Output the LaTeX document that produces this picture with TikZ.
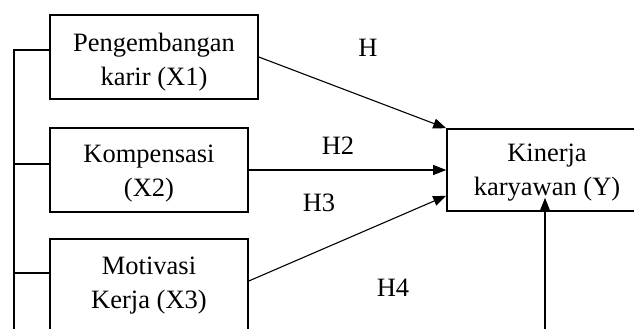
\documentclass[tikz,border=0pt]{standalone}
\usepackage{fontspec}
\setmainfont{Liberation Serif}
\usetikzlibrary{arrows.meta}
\begin{document}
\begin{tikzpicture}[x=1pt,y=-1pt,
  varbox/.style={draw, line width=1.6pt, inner sep=0pt},
  varname/.style={align=center, inner sep=0pt,
    font=\fontsize{26.5}{34}\selectfont},
  hyp/.style={font=\fontsize{26.5}{29}\selectfont, inner sep=0pt},
  link/.style={line width=1.1pt},
  arr/.style={link, -{Triangle[length=13pt,width=10pt]}}]
\useasboundingbox (0,0) rectangle (634,329);
\clip (0,0) rectangle (634,329);
% independent variables
\node[varbox, minimum width=208pt, minimum height=84pt] (X1) at (154,57) {};
\node[varname] (X1t) at ([yshift=-5pt]X1.center) {Pengembangan\\karir (X1)};
\node[varbox, minimum width=198pt, minimum height=84pt] (X2) at (149,170) {};
\node[varname] (X2t) at ([yshift=-4pt]X2.center) {Kompensasi\\(X2)};
\node[varbox, minimum width=198pt, minimum height=104pt] (X3) at (149,291) {};
\node[varname] (X3t) at ([yshift=5pt]X3.center) {Motivasi\\Kerja (X3)};
% dependent variable
\node[varbox, minimum width=200pt, minimum height=82pt] (Y) at (547,170) {};
\node[varname] (Yt) at ([yshift=-3pt]Y.center) {Kinerja\\karyawan (Y)};
% simultaneous bracket on the left
\coordinate (bus) at (14,345);
\draw[link] (bus) |- ([yshift=7pt]X1.west);
\draw[link] ([yshift=6pt]X2.west) -- ++(-36,0);
\draw[link] ([yshift=18pt]X3.west) -- ++(-36,0);
% partial effects
\draw[arr] (X1.east) -- (Y.north west);
\draw[arr] (X2.east) -- (Y.west);
\draw[arr] ([yshift=10pt]X3.east) -- ([yshift=16pt]Y.south west);
\coordinate (simul) at (545,345);
\draw[arr] (simul) -- ([yshift=14pt]Y.south -| simul);
% hypothesis labels
\node[hyp] (H1) at (368,48) {H};
\node[hyp] (H2) at (338,146) {H2};
\node[hyp] (H3) at (319,203) {H3};
\node[hyp] (H4) at (393,288) {H4};
\end{tikzpicture}
\end{document}
